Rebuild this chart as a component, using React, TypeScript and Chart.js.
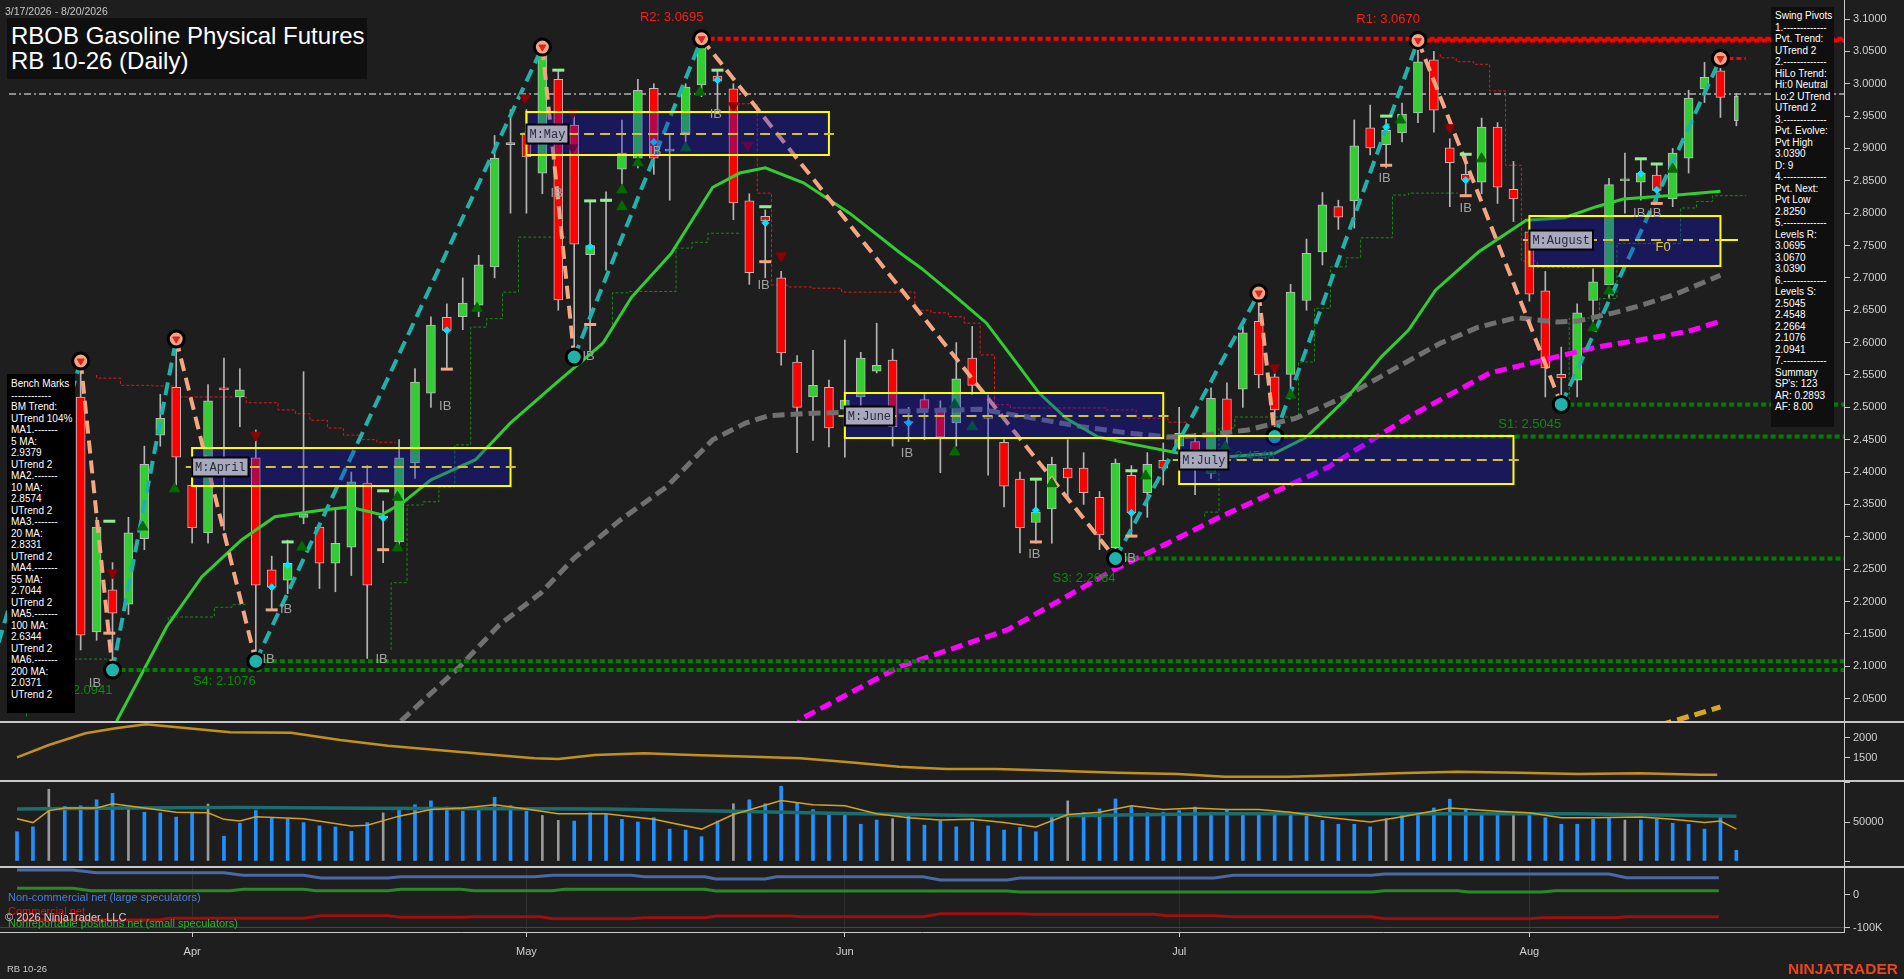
import React, { useEffect, useRef } from 'react';
import { Chart, registerables } from 'chart.js';

Chart.register(...registerables);

// ---------------- data ----------------
const DATE_RANGE = '3/17/2026 - 8/20/2026';
const TITLE_1 = 'RBOB Gasoline Physical Futures';
const TITLE_2 = 'RB 10-26 (Daily)';

const OPEN = [2.150,2.240,2.330,2.420,2.516,2.153,2.218,2.196,2.297,2.457,
 2.531,2.380,2.306,2.530,2.516,2.422,2.249,2.233,2.330,2.315,
 2.259,2.284,2.383,2.329,2.292,2.414,2.522,2.639,2.640,2.658,
 2.717,2.906,2.924,2.862,3.007,2.936,2.736,2.818,2.868,2.885,
 2.993,2.896,2.924,2.998,3.012,2.992,2.819,2.795,2.700,2.570,
 2.516,2.531,2.497,2.516,2.556,2.573,2.478,2.512,2.499,2.476,
 2.576,2.486,2.446,2.389,2.322,2.343,2.406,2.406,2.361,2.283,
 2.395,2.368,2.418,2.440,2.447,2.398,2.513,2.528,2.633,2.547,
 2.551,2.665,2.740,2.810,2.819,2.932,2.906,2.924,2.955,3.037,
 2.901,2.860,2.848,2.933,2.837,2.771,2.680,2.551,2.542,2.665,
 2.689,2.850,2.848,2.859,2.822,2.885,2.992,3.020,2.943];
const HIGH = [2.260,2.360,2.450,2.520,2.5716,2.330,2.260,2.330,2.440,2.520,
 2.6056,2.400,2.535,2.576,2.560,2.465,2.270,2.295,2.555,2.320,
 2.345,2.400,2.410,2.355,2.450,2.560,2.640,2.660,2.700,2.735,
 2.920,2.960,2.960,3.0567,3.020,2.950,2.819,2.833,2.944,3.007,
 3.000,2.920,3.000,3.0695,3.021,3.000,2.830,2.805,2.710,2.580,
 2.588,2.542,2.604,2.585,2.630,2.590,2.500,2.520,2.510,2.600,
 2.625,2.519,2.450,2.400,2.388,2.423,2.450,2.430,2.370,2.420,
 2.410,2.430,2.445,2.500,2.460,2.530,2.538,2.625,2.6766,2.560,
 2.690,2.760,2.832,2.820,2.944,2.967,2.945,2.970,3.067,3.050,
 2.915,2.891,2.947,2.940,2.880,2.780,2.710,2.593,2.660,2.714,
 2.854,2.893,2.883,2.875,2.900,2.990,3.033,3.039,2.985];
const LOW = [2.120,2.220,2.300,2.380,2.125,2.140,2.0941,2.180,2.280,2.440,
 2.380,2.290,2.290,2.310,2.470,2.1076,2.187,2.212,2.320,2.220,
 2.215,2.240,2.112,2.260,2.280,2.390,2.500,2.560,2.620,2.640,
 2.700,2.800,2.800,2.830,2.650,2.5778,2.588,2.712,2.840,2.870,
 2.860,2.820,2.910,2.980,2.959,2.790,2.690,2.700,2.565,2.430,
 2.449,2.439,2.423,2.490,2.553,2.440,2.447,2.450,2.399,2.440,
 2.520,2.395,2.346,2.275,2.290,2.290,2.360,2.350,2.280,2.2664,
 2.300,2.330,2.380,2.430,2.365,2.390,2.440,2.500,2.530,2.4548,
 2.530,2.650,2.720,2.775,2.777,2.890,2.870,2.910,2.940,2.925,
 2.810,2.827,2.830,2.815,2.787,2.664,2.516,2.5045,2.516,2.620,
 2.670,2.800,2.820,2.815,2.810,2.862,2.971,2.948,2.935];
const CLOSE = [2.240,2.330,2.420,2.490,2.148,2.315,2.182,2.306,2.412,2.483,
 2.423,2.314,2.510,2.527,2.527,2.225,2.222,2.259,2.335,2.259,
 2.290,2.385,2.225,2.332,2.422,2.539,2.627,2.619,2.661,2.720,
 2.885,2.909,2.887,3.048,2.666,2.752,2.750,2.821,2.893,2.990,
 2.885,2.899,2.995,3.067,3.004,2.816,2.708,2.788,2.584,2.500,
 2.534,2.468,2.511,2.576,2.565,2.470,2.476,2.497,2.454,2.544,
 2.534,2.483,2.378,2.314,2.338,2.412,2.391,2.368,2.303,2.414,
 2.337,2.412,2.406,2.460,2.432,2.514,2.461,2.615,2.550,2.496,
 2.678,2.738,2.813,2.794,2.904,2.901,2.928,2.953,3.034,2.959,
 2.878,2.852,2.933,2.840,2.822,2.675,2.561,2.546,2.646,2.694,
 2.844,2.853,2.862,2.835,2.893,2.978,3.010,2.979,2.981];

const VOLUME = [37500,43750,92000,70000,70800,78400,86700,68750,62500,61700,
 56250,61700,73000,31750,48400,64600,55500,54250,49250,45000,
 43750,38000,49250,61700,65900,72100,77100,69250,63750,68000,
 81750,70900,63750,58400,52100,51250,61750,59600,53400,50000,
 55500,40900,39600,31250,51250,73400,78400,73400,95900,74250,
 65900,59600,60900,47100,52500,54250,57500,45900,51250,43750,
 50000,45000,39600,43000,37500,59600,77100,61750,66750,79600,
 70000,61750,62500,64600,69250,62500,65900,61750,59600,59600,
 61750,57500,52100,47100,47100,43750,54250,59600,61750,68000,
 79250,66750,59600,59600,59600,60500,55500,47100,47100,53400,
 55500,52500,52500,53400,48400,47100,40900,58400,13750];
const VOLUME_GRAY_IDX = [2, 7, 12, 23, 33, 34, 45, 55, 66, 86, 94, 101];
const VOLUME_AVG: [number, number][] = [[0,66750],[7,68000],[14,68750],[22,67500],[31,67100],[37,66750],[45,63750],[52,60900],[60,58400],[67,58400],[75,60500],[83,60500],[90,60500],[98,60500],[108,57500]];
const VOLUME_FAST: [number, number][] = [[0,54250],[1,49250],[2,64600],[3,68000],[5,68000],[6,73400],[8,68000],[10,62500],[12,61750],[13,53400],[14,51250],[15,56750],[18,54250],[21,45000],[22,45900],[24,57500],[26,65900],[28,68000],[30,72100],[32,66750],[34,60500],[37,60500],[40,53400],[43,40900],[45,59600],[48,77500],[50,72100],[52,70900],[54,60500],[56,55500],[58,52500],[60,53400],[62,49250],[64,43750],[66,59600],[68,62500],[70,70900],[72,65900],[74,68000],[76,65900],[78,65900],[80,62500],[82,56750],[85,50000],[87,56750],[90,68000],[93,63750],[95,61750],[97,55500],[99,55500],[102,56250],[104,53400],[106,49250],[107,51250],[108,40900]];

const RANGE_LINE: [number, number][] = [[0,1517],[2,1820],[4.3,2108],[6.2,2232],[8.1,2330],[10.4,2246],[13.4,2133],[17.2,2123],[20.3,1943],[23.3,1803],[26.4,1697],[29.5,1591],[32.5,1493],[34,1475],[36.3,1574],[39.4,1616],[42.4,1574],[46.2,1532],[49.2,1493],[52.3,1394],[55.4,1286],[58.4,1229],[61.5,1229],[65.3,1187],[69.1,1138],[72.9,1106],[75.9,1039],[79.8,1039],[83.6,1081],[86.6,1123],[90.5,1163],[94.3,1138],[98.1,1106],[101.9,1123],[105.7,1089],[106.8,1089]];

const COT_NONCOMMERCIAL: [number, number][] = [[0,76450],[3.5,76450],[5,68200],[13,68200],[14.2,60250],[18,60250],[19.1,52000],[23.3,52000],[24.1,56000],[32.5,56000],[33.6,60250],[38.6,60250],[39.4,56000],[43.2,56000],[43.9,48930],[47,48930],[47.7,56000],[56.9,56000],[58,45870],[62.2,45870],[63,52000],[75.2,52000],[76.4,60250],[85.1,60250],[85.9,64220],[100,64220],[101.1,52900],[106.9,52900]];
const COT_NONREPORTABLE: [number, number][] = [[0,20500],[3.5,20500],[4.65,13150],[13.4,13150],[14.2,17430],[18,17430],[18.8,13150],[23.3,13150],[24.1,17430],[27.9,17430],[28.7,13150],[33.6,13150],[34.4,17430],[43.2,17430],[43.9,12230],[62.2,12230],[63,9170],[85.1,9170],[85.9,13150],[90.5,13150],[91.2,9170],[95.8,9170],[96.6,13150],[106.9,13150]];
const COT_COMMERCIAL: [number, number][] = [[0,-76450],[8.85,-76450],[9.6,-71250],[18,-71250],[19.1,-63300],[23.3,-63300],[24.1,-68200],[27.9,-68200],[28.7,-66360],[32.9,-66360],[33.6,-72480],[38.6,-72480],[39.4,-69420],[43.2,-69420],[43.9,-64220],[48.5,-64220],[49.3,-66360],[56.9,-66360],[58,-57190],[63,-57190],[63.8,-59020],[71.4,-59020],[72.2,-63300],[75.2,-63300],[76.4,-66360],[85.1,-66360],[85.9,-72480],[95,-72480],[95.8,-69420],[100.4,-69420],[101.1,-66360],[106.9,-66360]];

const MA20: [number, number][] = [[5.5,1.97],[6.3,2.017],[9.4,2.161],[11.6,2.238],[14.1,2.295],[16.2,2.331],[19.1,2.341],[20.9,2.346],[22.9,2.334],[24.2,2.352],[26,2.388],[28.8,2.419],[31,2.476],[33.9,2.538],[36.8,2.599],[38.6,2.670],[41.1,2.738],[43.7,2.840],[45.4,2.862],[47,2.870],[49.4,2.847],[52.3,2.800],[55.5,2.738],[56.8,2.715],[59.2,2.666],[60.9,2.630],[62.5,2.578],[64.2,2.522],[65.9,2.483],[67.9,2.454],[70.3,2.442],[73,2.429],[75.6,2.423],[79,2.429],[81,2.454],[83.4,2.511],[85.7,2.578],[87.4,2.619],[89.1,2.681],[91.8,2.740],[94.8,2.789],[97.2,2.793],[99.2,2.810],[100.9,2.822],[104.3,2.828],[107,2.834]];
const MA55: [number, number][] = [[23.3,1.996],[24.2,2.017],[27.8,2.099],[30.3,2.164],[32.9,2.213],[35,2.267],[37.9,2.326],[40.8,2.377],[43.7,2.450],[45.8,2.476],[47.2,2.487],[50.1,2.491],[55.5,2.494],[60.5,2.497],[63.9,2.483],[66.9,2.470],[69.9,2.460],[72.3,2.454],[74.3,2.456],[77.3,2.465],[80.3,2.483],[83.4,2.516],[86.7,2.562],[89.4,2.599],[91.8,2.624],[94.2,2.6385],[96.7,2.632],[98,2.633],[100.3,2.646],[102.1,2.658],[104.2,2.675],[107,2.704]];
const MA100: [number, number][] = [[48.9,1.999],[49.2,2.018],[55.5,2.100],[62.2,2.156],[68.9,2.249],[75.6,2.331],[82.4,2.408],[87.4,2.485],[92.5,2.553],[99.2,2.593],[101.9,2.604],[104.9,2.617],[107,2.633]];
const MA200: [number, number][] = [[103.2,2.009],[104.3,2.017],[107,2.037]];

const RED_STEP_A: [number, number][] = [[5,2.550],[6.5,2.545],[8.5,2.534],[10,2.533],[14.4,2.516],[16.4,2.507],[17.5,2.496],[18.4,2.490],[19.5,2.480],[20.5,2.468],[21.5,2.457],[22.6,2.450],[23.8,2.446]];
const RED_STEP_B: [number, number][] = [[45,2.979],[46.5,2.969],[47.4,2.831],[48.4,2.689],[49.9,2.686],[51.8,2.684],[56.4,2.678],[57.4,2.650],[58.5,2.646],[59.5,2.640],[60.5,2.630],[61.4,2.581],[62.4,2.504],[68.4,2.499],[70.3,2.496],[72.3,2.483],[73.5,2.477]];
const RED_STEP_C: [number, number][] = [[89.4,3.046],[90.4,3.040],[91.5,3.034],[92.5,3.030],[93.5,2.989],[94.5,2.874],[95.5,2.726],[96.5,2.716],[98.4,2.716]];
const GREEN_STEP_A: [number, number][] = [[0.6,2.022],[3.6,2.111],[5.8,2.111]];
const GREEN_STEP_B: [number, number][] = [[9.5,2.171],[12.4,2.176],[13.5,2.191],[14.5,2.195]];
const GREEN_STEP_C: [number, number][] = [[23.5,2.125],[24.5,2.229],[25.5,2.349],[26.5,2.354],[27.5,2.377],[28.5,2.442],[29.5,2.624],[30.5,2.637],[31.5,2.678],[32.5,2.763],[34.5,2.763]];
const GREEN_STEP_D: [number, number][] = [[37.4,2.620],[38.4,2.677],[41.4,2.679],[42.4,2.746],[43.4,2.755],[44.4,2.769],[45.5,2.769]];
const GREEN_STEP_E: [number, number][] = [[74.6,2.331],[75.5,2.338],[76.5,2.468],[80.5,2.485],[81.5,2.570],[82.5,2.653],[83.5,2.717],[84.4,2.731],[86.4,2.762],[87.4,2.828],[89.4,2.831],[90.5,2.831]];
const GREEN_STEP_F: [number, number][] = [[97.5,2.5035],[99.4,2.638],[100.5,2.668],[104.5,2.753],[105.5,2.808],[106.5,2.818],[107.5,2.827],[108.6,2.827]];

const PIVOT_IDX = [-1.5, 4, 6, 10, 15, 33, 35, 43, 69, 78, 79, 88, 97, 107];
const PIVOT_PRICE = [2.107, 2.5716, 2.0941, 2.6056, 2.1076, 3.0567, 2.5778, 3.0695, 2.2664, 2.6766, 2.4548, 3.0670, 2.5045, 3.0390];
const PIVOT_TYPE = ['L', 'H', 'L', 'H', 'L', 'H', 'L', 'H', 'L', 'H', 'L', 'H', 'L', 'H'];

const R_LEVEL_IDX = [88, 43];
const R_LEVEL_PRICE = [3.0670, 3.0695];
const R_SHORT_IDX = 107;
const R_SHORT_PRICE = 3.0390;
const S_LEVEL_IDX = [97, 79, 69, 15, 6];
const S_LEVEL_PRICE = [2.5045, 2.4548, 2.2664, 2.1076, 2.0941];
const REF_LINE_PRICE = 2.984;

const BOX_START = [11, 32, 52, 73, 95];
const BOX_END = [31, 51, 72, 94, 107];
const BOX_LOW = [2.3784, 2.8899, 2.4526, 2.3815, 2.7184];
const BOX_HIGH = [2.4371, 2.9563, 2.5221, 2.4557, 2.7956];
const BOX_MID = [2.4078, 2.9223, 2.4866, 2.4186, 2.7585];
const BOX_LABEL = ['M:April', 'M:May', 'M:June', 'M:July', 'M:August'];
const F0_POINT: [number, number] = [103.4, 2.7477];

const TRI_UP: [number, number][] = [[7.9,2.315],[9.9,2.374],[17.9,2.284],[23.9,2.283],[23.9,2.361],[28.9,2.653],[38,2.836],[38,2.810],[39,2.878],[42,2.901],[42.9,2.987],[58.9,2.504],[60,2.470],[58.9,2.431],[65,2.382],[70.9,2.394],[75,2.403],[75.9,2.439],[80,2.519],[86.9,2.944],[92,2.884],[99,2.623],[100,2.680],[104,2.868]];
const TRI_DOWN: [number, number][] = [[6,2.244],[15,2.457],[31.9,2.978],[34.9,2.955],[34.9,2.901],[45,2.966],[45.9,2.905],[48,2.734],[79,2.561],[90,2.932]];
const CYAN_DOTS: [number, number][] = [[16,2.222],[17,2.256],[23,2.329],[27,2.619],[36,2.748],[40,2.910],[44,3.006],[47,2.785],[56,2.476],[64,2.341],[70,2.337],[86,2.933],[91,2.851],[102,2.861],[103,2.836]];
const HI_TICKS: [number, number][] = [[5.8,2.324],[17,2.292],[23,2.371],[34,3.021],[36,2.819],[37,2.820],[44,3.021],[47,2.810],[64,2.389],[70,2.402],[86,2.950],[91,2.891],[102,2.884],[103,2.876]];
const LO_TICKS: [number, number][] = [[5.8,2.151],[16,2.187],[23,2.280],[27,2.559],[36,2.628],[47,2.725],[64,2.292],[70,2.301],[86,2.874],[91,2.827],[103,2.815]];
const IB_MARKS: [number, number][] = [[4.9,2.074],[15.8,2.110],[16.9,2.187],[22.9,2.110],[26.9,2.502],[35.9,2.578],[33.9,2.831],[43.9,2.952],[46.9,2.689],[40.1,2.895],[55.9,2.429],[63.9,2.273],[69.9,2.267],[85.9,2.854],[91,2.808],[101.9,2.800],[102.9,2.800]];

const PRICE_TICKS = [2.05,2.10,2.15,2.20,2.25,2.30,2.35,2.40,2.45,2.50,2.55,2.60,2.65,2.70,2.75,2.80,2.85,2.90,2.95,3.00,3.05,3.10];
const RANGE_TICKS = [1500, 2000];
const VOLUME_TICKS = [0, 50000, 100000];
const VOLUME_TICK_LABELS = ['', '50000', ''];
const COT_TICKS = [-100000, 0];
const COT_TICK_LABELS = ['-100K', '0'];
const MONTH_TICK_IDX = [11, 32, 52, 73, 95];
const MONTH_TICK_LABELS = ['Apr', 'May', 'Jun', 'Jul', 'Aug'];

const SWING_LINES = ['Swing Pivots','1.-------------','Pvt. Trend:','UTrend 2','2.-------------','HiLo Trend:','Hi:0 Neutral','Lo:2 UTrend','UTrend 2','3.-------------','Pvt. Evolve:','Pvt High','3.0390','D: 9','4.-------------','Pvt. Next:','Pvt Low','2.8250','5.-------------','Levels R:','3.0695','3.0670','3.0390','6.-------------','Levels S:','2.5045','2.4548','2.2664','2.1076','2.0941','7.-------------','Summary',"SP's: 123",'AR: 0.2893','AF: 8.00'];
const BENCH_LINES = ['Bench Marks','------------','BM Trend:','UTrend 104%','MA1.-------','5 MA:','2.9379','UTrend 2','MA2.-------','10 MA:','2.8574','UTrend 2','MA3.-------','20 MA:','2.8331','UTrend 2','MA4.-------','55 MA:','2.7044','UTrend 2','MA5.-------','100 MA:','2.6344','UTrend 2','MA6.-------','200 MA:','2.0371','UTrend 2'];

// ---------------- layout / style ----------------
const W = 1904, H = 979, AXIS_W = 60;
const FIRST_BAR_PX = 17, BAR_SPACING = 15.92;
const X_MIN = -FIRST_BAR_PX / BAR_SPACING;
const X_MAX = X_MIN + (W - AXIS_W) / BAR_SPACING;
const MAIN_H = 721, P2_TOP = 721, P2_H = 59, P3_TOP = 780, P3_H = 86, P4_TOP = 866, P4_H = 113, X_AXIS_H = 47;
const MAIN_Y = [2.0153, 3.1294];
const RANGE_Y = [958, 2411];
const VOLUME_Y = [-6410, 103846];
const COT_Y = [-113150, 88685];

const FONT = "'Liberation Sans', Arial, Helvetica, sans-serif";
const NARROW = "'Liberation Sans Narrow', 'Arial Narrow', 'Liberation Sans', Arial, sans-serif";
const MONO = "'Liberation Mono', 'DejaVu Sans Mono', monospace";
const BG = '#1e1e1e';
const AXIS_COLOR = '#c8c8c8';
const TICK_TEXT = '#d0d0d0';
const TEAL = '#20b2aa';
const SALMON = '#f4a582';

const pts = (a: [number, number][]) => a.map(([x, y]) => ({ x, y }));

function yAxis(min: number, max: number, ticks: number[], fmt: (v: number) => string, grid: any = {}) {
  return {
    type: 'linear', position: 'right', min, max, bounds: 'data',
    afterFit: (s: any) => { s.width = AXIS_W; s.paddingTop = 0; s.paddingBottom = 0; },
    afterBuildTicks: (s: any) => { s.ticks = ticks.map((v) => ({ value: v })); },
    ticks: { color: TICK_TEXT, font: { family: FONT, size: 11 }, padding: 3, autoSkip: false, callback: (v: any) => fmt(Number(v)) },
    grid: { drawOnChartArea: false, color: AXIS_COLOR, tickColor: AXIS_COLOR, tickLength: 6, ...grid },
    border: { display: true, color: AXIS_COLOR, width: 1 },
  };
}
const hiddenX = () => ({ type: 'linear', min: X_MIN, max: X_MAX, bounds: 'data', display: false, offset: false, grid: { offset: false } });

function baseOptions(scales: any) {
  return {
    animation: false, responsive: false, maintainAspectRatio: false, events: [],
    layout: { padding: 0, autoPadding: false },
    plugins: { legend: { display: false }, tooltip: { enabled: false } },
    scales,
  };
}

function lineDs(p: [number, number][], color: string, width: number, dash: number[], order: number, extra: any = {}) {
  return { type: 'line', data: pts(p), borderColor: color, borderWidth: width, borderDash: dash, pointRadius: 0, fill: false, tension: 0, order, borderCapStyle: 'butt', ...extra };
}
function markerDs(p: [number, number][], style: string, radius: number, fill: string, stroke: string, bw: number, order: number, extra: any = {}) {
  return { type: 'line', showLine: false, data: pts(p), pointStyle: style, pointRadius: radius, pointBackgroundColor: fill, pointBorderColor: stroke, pointBorderWidth: bw, order, ...extra };
}

const topSeparator = {
  id: 'topSeparator',
  afterDraw(chart: any) {
    const c = chart.ctx;
    c.save();
    c.strokeStyle = AXIS_COLOR; c.lineWidth = 2;
    c.beginPath(); c.moveTo(0, 1); c.lineTo(chart.width, 1); c.stroke();
    c.restore();
  },
};

const overlayPlugin = {
  id: 'overlay',
  afterDatasetsDraw(chart: any) {
    const { ctx } = chart;
    const xs = chart.scales.x, ys = chart.scales.y;
    const px = (v: number) => xs.getPixelForValue(v);
    const py = (v: number) => ys.getPixelForValue(v);
    ctx.save();
    // support labels (under the value-area boxes)
    ctx.font = `13px ${NARROW}`; ctx.textAlign = 'right'; ctx.textBaseline = 'middle';
    ctx.fillStyle = '#0b8a0b';
    S_LEVEL_PRICE.forEach((p, k) => ctx.fillText(`S${k + 1}: ${p.toFixed(4)}`, px(S_LEVEL_IDX[k]), py(p) + 20));
    // monthly value-area boxes
    BOX_START.forEach((s, k) => {
      const x0 = px(s), x1 = px(BOX_END[k]);
      const y0 = py(BOX_HIGH[k]), y1 = py(BOX_LOW[k]);
      ctx.fillStyle = 'rgba(18,18,228,0.3)';
      ctx.fillRect(x0, y0, x1 - x0, y1 - y0);
      ctx.setLineDash([]); ctx.strokeStyle = '#ffff00'; ctx.lineWidth = 2;
      ctx.strokeRect(x0, y0, x1 - x0, y1 - y0);
      const ym = py(BOX_MID[k]);
      const last = k === BOX_START.length - 1;
      ctx.strokeStyle = '#cfc03c'; ctx.setLineDash([10, 6]); ctx.lineWidth = 2;
      ctx.beginPath(); ctx.moveTo(px(s - 0.4), ym); ctx.lineTo(px(BOX_END[k] + 0.4), ym); ctx.stroke();
      ctx.setLineDash([]);
      if (last) {
        ctx.strokeStyle = '#ffff00';
        ctx.beginPath(); ctx.moveTo(px(BOX_END[k]), ym); ctx.lineTo(px(OPEN.length - 0.9), ym); ctx.stroke();
      }
      ctx.font = `12px ${MONO}`;
      const tw = ctx.measureText(BOX_LABEL[k]).width;
      ctx.fillStyle = '#a9a9bd'; ctx.fillRect(x0, ym - 9.5, tw + 6, 19);
      ctx.strokeStyle = '#000'; ctx.lineWidth = 2; ctx.strokeRect(x0, ym - 9.5, tw + 6, 19);
      ctx.fillStyle = '#2a2a3c'; ctx.textAlign = 'left'; ctx.textBaseline = 'middle';
      ctx.fillText(BOX_LABEL[k], x0 + 3, ym + 1);
    });
    // resistance labels
    ctx.font = `13px ${NARROW}`; ctx.textAlign = 'right'; ctx.textBaseline = 'middle';
    ctx.fillStyle = '#ff1a1a';
    R_LEVEL_PRICE.forEach((p, k) => ctx.fillText(`R${k + 1}: ${p.toFixed(4)}`, px(R_LEVEL_IDX[k]) + 2, py(p) - 21));
    // IB labels
    ctx.textAlign = 'center'; ctx.fillStyle = '#a2a2a2';
    IB_MARKS.forEach(([i, p]) => ctx.fillText('IB', px(i), py(p)));
    // F0
    ctx.fillStyle = '#dccb3a';
    ctx.fillText('F0', px(F0_POINT[0]), py(F0_POINT[1]));
    ctx.restore();
  },
};

function mainConfig(): any {
  const lastIdx = OPEN.length - 1;
  const idx = OPEN.map((_, i) => i);
  const fullIdx = idx.filter((i) => i < lastIdx);
  const bodyColor = (i: number) => (CLOSE[i] >= OPEN[i] ? '#32cd32' : '#ff0000');
  const legs = PIVOT_IDX.slice(0, -1).map((x, k) =>
    lineDs([[x, PIVOT_PRICE[k]], [PIVOT_IDX[k + 1], PIVOT_PRICE[k + 1]]], PIVOT_TYPE[k] === 'L' ? TEAL : SALMON, 4, [13, 7], 50));
  const hiPivots: [number, number][] = [];
  const loPivots: [number, number][] = [];
  PIVOT_IDX.forEach((x, k) => { if (k > 0) (PIVOT_TYPE[k] === 'H' ? hiPivots : loPivots).push([x, PIVOT_PRICE[k]]); });
  const datasets: any[] = [
    lineDs([[-0.5, REF_LINE_PRICE], [X_MAX, REF_LINE_PRICE]], '#8c8c8c', 2, [7, 3, 2, 3], 100),
    ...[RED_STEP_A, RED_STEP_B, RED_STEP_C].map((s) => lineDs(s, '#e01818', 1, [3, 2], 90, { stepped: 'after' })),
    ...[GREEN_STEP_A, GREEN_STEP_B, GREEN_STEP_C, GREEN_STEP_D, GREEN_STEP_E, GREEN_STEP_F].map((s) => lineDs(s, '#168a16', 1, [3, 2], 90, { stepped: 'after' })),
    { type: 'bar', data: idx.map((i) => ({ x: i, y: [LOW[i], HIGH[i]] })), backgroundColor: '#b4b4b4', barThickness: 1, grouped: false, order: 80 },
    { type: 'bar', data: fullIdx.map((i) => ({ x: i, y: [OPEN[i], CLOSE[i]] })), backgroundColor: fullIdx.map(bodyColor), borderColor: '#bcbcbc', borderWidth: 1, borderSkipped: false, barThickness: 9, grouped: false, order: 79 },
    { type: 'bar', data: [{ x: lastIdx, y: [OPEN[lastIdx], CLOSE[lastIdx]] }], backgroundColor: bodyColor(lastIdx), borderColor: '#bcbcbc', borderWidth: 1, borderSkipped: false, barThickness: 4, grouped: false, order: 79 },
    lineDs(MA200, '#daa520', 5, [12, 6], 73),
    lineDs(MA100, '#ff00ff', 5, [12, 6], 72),
    lineDs(MA55, '#707070', 5, [12, 6], 71),
    lineDs(MA20, '#33cc33', 3, [], 70),
    ...S_LEVEL_PRICE.map((p, k) => lineDs([[S_LEVEL_IDX[k], p], [X_MAX, p]], '#008000', 4, [5, 3], 60)),
    ...R_LEVEL_PRICE.map((p, k) => lineDs([[R_LEVEL_IDX[k], p], [X_MAX, p]], '#ff0000', 4, [5, 3], 60)),
    lineDs([[R_SHORT_IDX, R_SHORT_PRICE], [R_SHORT_IDX + 1.6, R_SHORT_PRICE]], '#ff0000', 3, [5, 3], 60),
    ...legs,
    markerDs(TRI_UP, 'triangle', 6, '#006a00', '#006a00', 1, 45),
    markerDs(TRI_DOWN, 'triangle', 6, '#8b0000', '#8b0000', 1, 45, { pointRotation: 180 }),
    markerDs(HI_TICKS, 'line', 6, '#90ee90', '#90ee90', 3, 45),
    markerDs(LO_TICKS, 'line', 6, '#f4a582', '#f4a582', 3, 45),
    markerDs(CYAN_DOTS, 'rectRot', 3.5, '#00e5ff', '#00e5ff', 1, 44),
    markerDs(hiPivots, 'circle', 8, SALMON, '#000000', 3, 40),
    markerDs(loPivots, 'circle', 8, TEAL, '#000000', 3, 40),
    markerDs(hiPivots, 'triangle', 4, '#e02020', '#e02020', 1, 39, { pointRotation: 180 }),
  ];
  return {
    type: 'bar',
    data: { datasets },
    options: baseOptions({ x: hiddenX(), y: yAxis(MAIN_Y[0], MAIN_Y[1], PRICE_TICKS, (v) => v.toFixed(4)) }),
    plugins: [overlayPlugin],
  };
}

function rangeConfig(): any {
  return {
    type: 'line',
    data: { datasets: [lineDs(RANGE_LINE, '#c4901c', 2.5, [], 1)] },
    options: baseOptions({ x: hiddenX(), y: yAxis(RANGE_Y[0], RANGE_Y[1], RANGE_TICKS, (v) => String(v)) }),
    plugins: [topSeparator],
  };
}

function volumeConfig(): any {
  const blue = VOLUME.map((v, i) => ({ x: i, y: v })).filter((d) => !VOLUME_GRAY_IDX.includes(d.x));
  const gray = VOLUME.map((v, i) => ({ x: i, y: v })).filter((d) => VOLUME_GRAY_IDX.includes(d.x));
  return {
    type: 'bar',
    data: {
      datasets: [
        { type: 'bar', data: blue, backgroundColor: '#1e90ff', barThickness: 3, grouped: false, order: 10 },
        { type: 'bar', data: gray, backgroundColor: '#9a9a9a', barThickness: 2, grouped: false, order: 10 },
        lineDs(VOLUME_AVG, '#1b6e6e', 3.5, [], 5),
        lineDs(VOLUME_FAST, '#d4a21e', 1.5, [], 4),
      ],
    },
    options: baseOptions({ x: hiddenX(), y: yAxis(VOLUME_Y[0], VOLUME_Y[1], VOLUME_TICKS, (v) => VOLUME_TICK_LABELS[VOLUME_TICKS.indexOf(v)] ?? '') }),
    plugins: [topSeparator],
  };
}

function cotConfig(): any {
  return {
    type: 'line',
    data: {
      datasets: [
        lineDs(COT_NONCOMMERCIAL, '#4a6aa6', 3, [], 1),
        lineDs(COT_NONREPORTABLE, '#2a8a2a', 3, [], 1),
        lineDs(COT_COMMERCIAL, '#a00e0e', 3, [], 1),
      ],
    },
    options: baseOptions({
      x: {
        type: 'linear', min: X_MIN, max: X_MAX, bounds: 'data', position: 'bottom', offset: false,
        afterFit: (s: any) => { s.height = X_AXIS_H; s.paddingLeft = 0; s.paddingRight = 0; },
        afterBuildTicks: (s: any) => { s.ticks = MONTH_TICK_IDX.map((v) => ({ value: v })); },
        ticks: { color: TICK_TEXT, font: { family: FONT, size: 11 }, padding: 8, maxRotation: 0, autoSkip: false, callback: (v: any) => MONTH_TICK_LABELS[MONTH_TICK_IDX.indexOf(Number(v))] ?? '' },
        grid: { drawOnChartArea: true, color: '#2e2e2e', tickColor: AXIS_COLOR, tickLength: 5, offset: false },
        border: { display: true, color: AXIS_COLOR, width: 1 },
      },
      y: yAxis(COT_Y[0], COT_Y[1], COT_TICKS, (v) => COT_TICK_LABELS[COT_TICKS.indexOf(v)] ?? '', {
        drawOnChartArea: true,
        color: (c: any) => (c.tick && c.tick.value === -100000 ? '#454545' : 'rgba(0,0,0,0)'),
      }),
    }),
    plugins: [topSeparator],
  };
}

const abs = (left: number, top: number, extra: any = {}) => ({ position: 'absolute' as const, left, top, ...extra });

export default function App() {
  const mainRef = useRef<HTMLCanvasElement | null>(null);
  const p2Ref = useRef<HTMLCanvasElement | null>(null);
  const p3Ref = useRef<HTMLCanvasElement | null>(null);
  const p4Ref = useRef<HTMLCanvasElement | null>(null);

  useEffect(() => {
    const charts: any[] = [];
    if (mainRef.current) charts.push(new Chart(mainRef.current, mainConfig()));
    if (p2Ref.current) charts.push(new Chart(p2Ref.current, rangeConfig()));
    if (p3Ref.current) charts.push(new Chart(p3Ref.current, volumeConfig()));
    if (p4Ref.current) charts.push(new Chart(p4Ref.current, cotConfig()));
    return () => charts.forEach((c) => c.destroy());
  }, []);

  const small = { fontFamily: FONT, fontSize: 11, lineHeight: '12px', whiteSpace: 'pre' as const };

  return (
    <div style={{ position: 'fixed', left: 0, top: 0, width: W, height: H, background: BG, overflow: 'hidden' }}>
      <canvas ref={mainRef} width={W} height={MAIN_H} style={abs(0, 0)} />
      <canvas ref={p2Ref} width={W} height={P2_H} style={abs(0, P2_TOP)} />
      <canvas ref={p3Ref} width={W} height={P3_H} style={abs(0, P3_TOP)} />
      <canvas ref={p4Ref} width={W} height={P4_H} style={abs(0, P4_TOP)} />

      <div style={abs(5, 5, { ...small, fontSize: 10.5, color: '#c8c8c8' })}>{DATE_RANGE}</div>
      <div style={abs(7, 18, { width: 360, height: 61, background: '#0f0f0f', boxSizing: 'border-box', padding: '5px 0 0 4px', color: '#ffffff', fontFamily: FONT, fontSize: 24, lineHeight: '25px', whiteSpace: 'pre' })}>
        <div>{TITLE_1}</div>
        <div>{TITLE_2}</div>
      </div>

      <div style={abs(1771, 7, { width: 63, height: 420, background: '#0f0f0f', boxSizing: 'border-box', padding: '3px 0 0 4px', color: '#ffffff', fontFamily: FONT, fontSize: 10, lineHeight: '11.5px', whiteSpace: 'pre', overflow: 'hidden' })}>
        {SWING_LINES.map((t, k) => <div key={k}>{t}</div>)}
      </div>

      <div style={abs(7, 374, { width: 68, height: 339, background: '#000000', boxSizing: 'border-box', padding: '4px 0 0 4px', color: '#ffffff', fontFamily: FONT, fontSize: 10, lineHeight: '11.5px', whiteSpace: 'pre', overflow: 'hidden' })}>
        {BENCH_LINES.map((t, k) => <div key={k}>{t}</div>)}
      </div>

      <div style={abs(8, 891, { ...small, color: '#4a7fd8' })}>Non-commercial net (large speculators)</div>
      <div style={abs(8, 905, { ...small, color: '#e01010' })}>Commercial net</div>
      <div style={abs(8, 917, { ...small, color: '#30b030' })}>Nonreportable positions net (small speculators)</div>
      <div style={abs(5, 911, { ...small, color: '#d0d0d0' })}>© 2026 NinjaTrader, LLC</div>

      <div style={abs(7, 963, { ...small, fontSize: 9.5, color: '#c8c8c8' })}>RB 10-26</div>
      <div style={abs(1788, 960, { fontFamily: FONT, fontWeight: 700, fontSize: 15.5, lineHeight: '18px', color: '#e8461e', whiteSpace: 'pre' })}>NINJATRADER</div>
    </div>
  );
}
